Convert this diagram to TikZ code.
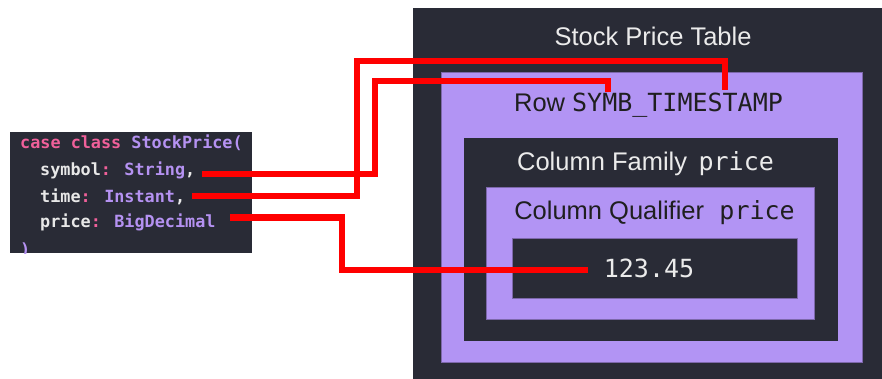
\documentclass[tikz,border=0pt]{standalone}
\usepackage{fontspec}
\setmainfont{Liberation Sans}
\newfontfamily\codefont{DejaVu Sans Mono}
\newfontfamily\monofont{DejaVu Sans Mono}
\definecolor{darkbg}{HTML}{292B36}
\definecolor{lav}{HTML}{B294F4}
\definecolor{kwpink}{HTML}{F0609A}
\definecolor{typpurple}{HTML}{B592F2}
\definecolor{idwhite}{HTML}{E8E8E8}
\definecolor{redline}{HTML}{FF0000}
\tikzset{
  darkbox/.style={fill=darkbg, draw=none},
  lavbox/.style={fill=lav, draw=lav!70!black, line width=0.6pt},
  whitetxt/.style={text=white!92!black, font=\fontsize{25.5}{28}\selectfont, inner sep=0pt},
  blacktxt/.style={text=black!88, font=\fontsize{25.5}{28}\selectfont, inner sep=0pt},
  codeline/.style={anchor=west, inner sep=0pt, font=\codefont\bfseries\fontsize{16.8}{20}\selectfont, text=idwhite},
  link/.style={draw=redline, line width=6pt, line join=miter}
}
\newcommand{\kw}[1]{\textcolor{kwpink}{#1}}
\newcommand{\ty}[1]{\textcolor{typpurple}{#1}}
\newcommand{\mo}[1]{{\monofont\fontsize{25}{28}\selectfont #1}}
\begin{document}
\begin{tikzpicture}[x=1pt,y=-1pt]
\useasboundingbox (0,0) rectangle (882,379);
% code box
\fill[darkbg] (10,132) rectangle (252,253);
\begin{scope}
\clip (10,132) rectangle (252,253);
\node[codeline] (c0) at (20,143) {\kw{case class} \ty{StockPrice(}};
\node[codeline] (c1) at (40,170) {symbol\kw{:} \ty{String},};
\node[codeline] (c2) at (40,197) {time\kw{:} \ty{Instant},};
\node[codeline] (c3) at (40,222) {price\kw{:} \ty{BigDecimal}};
\node[codeline] (c4) at (20,250) {\ty{)}};
\end{scope}
% table boxes
\fill[darkbg] (413,8) rectangle (882,379);
\path[lavbox] (441,72) rectangle (862,362);
\fill[darkbg] (464,138) rectangle (838,341);
\path[lavbox] (486,187) rectangle (814,319);
\path[fill=darkbg, draw=lav!70!black, line width=0.6pt] (512,238) rectangle (797,298);
% texts
\node[whitetxt] (title) at (653,36) {Stock Price Table};
\node[blacktxt] (row) at (648.5,105) {Row \mo{SYMB\_TIMESTAMP}};
\node[whitetxt] (fam) at (645.5,164) {Column Family\hspace{0.45em}\mo{price}};
\node[blacktxt] (qual) at (654.5,213) {Column Qualifier\hspace{0.6em}\mo{price}};
\node[whitetxt, text=white!92!black] (val) at (649,268) {\mo{123.45}};
% connector coordinates
\coordinate (s0) at (202,174);
\coordinate (s1) at (608,92);
\coordinate (t0) at (192,196);
\coordinate (t1) at (725,90);
\coordinate (p0) at (230,217.5);
\coordinate (p1) at (588,270);
% connectors
\draw[link] (s0) -- (374.5,174) -- (374.5,81) -| (s1);
\draw[link] (t0) -- (357,196) -- (357,61.5) -| (t1);
\draw[link] (p0) -- (342,217.5) |- (p1);
\end{tikzpicture}
\end{document}
